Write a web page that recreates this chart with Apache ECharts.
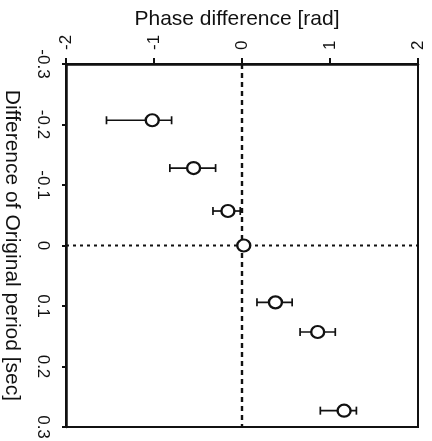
<!DOCTYPE html>
<html>
<head>
<meta charset="utf-8">
<script src="https://cdn.jsdelivr.net/npm/echarts@6/dist/echarts.min.js"></script>
<style>
html,body{margin:0;padding:0;background:#fff;}
#chart{width:432px;height:441px;}
</style>
</head>
<body>
<div id="chart"></div>
<script>
// Data
var periodDiff = [-0.207, -0.128, -0.057, 0.0, 0.094, 0.143, 0.273];   // y: Difference of Original period [sec]
var phaseDiff  = [-1.02, -0.55, -0.16, 0.02, 0.38, 0.86, 1.16];         // x: Phase difference [rad]
var phaseLow   = [-1.54, -0.82, -0.33, 0.02, 0.17, 0.66, 0.89];         // error bar low
var phaseHigh  = [-0.80, -0.30, -0.02, 0.02, 0.57, 1.06, 1.30];         // error bar high
var xTicks = [-2, -1, 0, 1, 2];
var yTicks = [-0.3, -0.2, -0.1, 0, 0.1, 0.2, 0.3];
var zeroLines = [[0, yTicks[0], 0, yTicks[yTicks.length - 1]], [xTicks[0], 0, xTicks[xTicks.length - 1], 0]];

var FONT = 'Liberation Sans';
var INK = '#111';

var pts = periodDiff.map(function (y, i) { return [phaseDiff[i], y]; });
var errs = periodDiff.map(function (y, i) { return [phaseLow[i], phaseHigh[i], y]; });

var chart = echarts.init(document.getElementById('chart'), null, {renderer: 'canvas'});
chart.setOption({
  backgroundColor: '#fff',
  animation: false,
  grid: {left: 66, right: 14, top: 64, bottom: 14, containLabel: false, outerBoundsMode: 'none',
    show: true, borderColor: INK, borderWidth: 2, backgroundColor: 'transparent'},
  xAxis: {
    type: 'value', position: 'top',
    min: xTicks[0], max: xTicks[xTicks.length - 1], interval: xTicks[1] - xTicks[0],
    name: 'Phase difference [rad]', nameLocation: 'middle', nameGap: 34, nameMoveOverlap: false,
    nameTextStyle: {fontFamily: FONT, fontSize: 21, color: INK, padding: [0, 10, 0, 0]},
    axisLine: {show: true, onZero: false, lineStyle: {color: INK, width: 2.5}},
    axisTick: {show: true, inside: false, length: 6, lineStyle: {color: INK, width: 2}},
    axisLabel: {rotate: -90, fontFamily: FONT, fontSize: 17, color: INK, margin: 14,
      formatter: function (v) { return String(v); }},
    splitLine: {show: false}
  },
  yAxis: {
    type: 'value', inverse: true,
    min: yTicks[0], max: yTicks[yTicks.length - 1], interval: +(yTicks[1] - yTicks[0]).toFixed(1),
    name: 'Difference of Original period [sec]', nameLocation: 'middle', nameGap: 44, nameRotate: -90,
    nameMoveOverlap: false,
    nameTextStyle: {fontFamily: FONT, fontSize: 21, color: INK},
    axisLine: {show: true, onZero: false, lineStyle: {color: INK, width: 2.5}},
    axisTick: {show: true, inside: false, length: 4, lineStyle: {color: INK, width: 2}},
    axisLabel: {rotate: -90, fontFamily: FONT, fontSize: 17, color: INK, margin: 15,
      formatter: function (v) { return String(+v.toFixed(1)); }},
    splitLine: {show: false}
  },
  series: [
    {
      type: 'custom',
      data: zeroLines,
      z: 1,
      silent: true,
      renderItem: function (params, api) {
        var a = api.coord([api.value(0), api.value(1)]);
        var b = api.coord([api.value(2), api.value(3)]);
        var vertical = Math.abs(a[0] - b[0]) < 1;
        return {type: 'line', shape: {x1: a[0], y1: a[1], x2: b[0], y2: b[1]},
          style: {stroke: INK, lineWidth: vertical ? 2.4 : 1.9, lineDash: vertical ? [5, 4] : [3, 4]}};
      }
    },
    {
      type: 'custom',
      data: errs,
      z: 2,
      renderItem: function (params, api) {
        var lo = api.coord([api.value(0), api.value(2)]);
        var hi = api.coord([api.value(1), api.value(2)]);
        if (Math.abs(hi[0] - lo[0]) < 1) return {type: 'group', children: []};
        var cap = 4;
        var st = {stroke: INK, lineWidth: 1.7, fill: null};
        return {type: 'group', children: [
          {type: 'line', shape: {x1: lo[0], y1: lo[1], x2: hi[0], y2: hi[1]}, style: st},
          {type: 'line', shape: {x1: lo[0], y1: lo[1] - cap, x2: lo[0], y2: lo[1] + cap}, style: st},
          {type: 'line', shape: {x1: hi[0], y1: hi[1] - cap, x2: hi[0], y2: hi[1] + cap}, style: st}
        ]};
      }
    },
    {
      type: 'scatter',
      data: pts,
      z: 3,
      symbol: 'circle',
      symbolSize: [13, 12],
      itemStyle: {color: '#fff', borderColor: INK, borderWidth: 2.3, opacity: 1}
    }
  ]
});
</script>
</body>
</html>
